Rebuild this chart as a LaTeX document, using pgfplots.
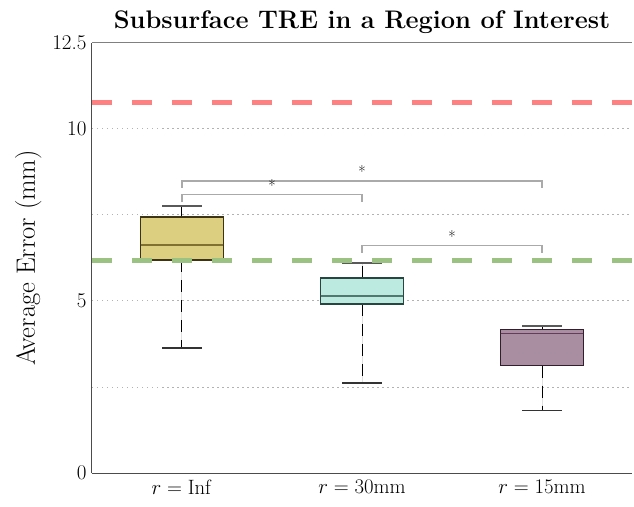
\documentclass[border=0pt]{standalone}
\usepackage{pgfplots}
\pgfplotsset{compat=1.18}
\usepgfplotslibrary{statistics}
\definecolor{fillA}{RGB}{221,207,128}
\definecolor{edgeA}{RGB}{60,52,20}
\definecolor{medA}{RGB}{128,112,50}
\definecolor{fillB}{RGB}{189,234,224}
\definecolor{edgeB}{RGB}{40,70,64}
\definecolor{medB}{RGB}{80,120,110}
\definecolor{fillC}{RGB}{168,142,160}
\definecolor{edgeC}{RGB}{50,30,45}
\definecolor{medC}{RGB}{100,60,90}
\definecolor{refred}{RGB}{255,128,128}
\definecolor{refgreen}{RGB}{155,194,131}
\definecolor{brk}{RGB}{170,170,170}
\begin{document}
\begin{tikzpicture}
\useasboundingbox (-92pt,-33pt) rectangle (542pt,473pt);
\begin{axis}[
  scale only axis,
  width=540pt, height=430pt,
  xmin=0.5, xmax=3.5, ymin=0, ymax=12.5,
  axis x line*=bottom, axis y line*=left,
  axis line style={-, draw=black!70, line width=1pt},
  xtick={1,2,3},
  xticklabels={{$r=\mathrm{Inf}$},{$r=\mathrm{30mm}$},{$r=\mathrm{15mm}$}},
  ytick={0,5,10,12.5},
  yticklabels={0,5,10,12.5},
  minor ytick={2.5,7.5},
  major tick length=0pt, minor tick length=0pt,
  ymajorgrids, yminorgrids,
  major grid style={draw=black!30, line width=1pt, dash pattern=on 1.5pt off 3.5pt},
  minor grid style={draw=black!30, line width=1pt, dash pattern=on 1.5pt off 3.5pt},
  tick label style={font=\fontsize{21}{23}\selectfont},
  yticklabel style={xshift=-2pt},
  xticklabel style={yshift=-4pt},
  ylabel={Average Error (mm)},
  ylabel style={font=\fontsize{26.5}{28}\selectfont},
  ylabel shift=4pt,
  title={Subsurface TRE in a Region of Interest},
  title style={font=\fontsize{25.4}{28}\selectfont\bfseries},
  clip=false,
  boxplot/draw direction=y,
  boxplot/box extend=0.46,
  boxplot/whisker extend=0.22,
  boxplot/draw/lower whisker/.code={%
    \draw[black, line width=1pt, dash pattern=on 12pt off 8pt]
      (boxplot cs:\pgfplotsboxplotvalue{lower quartile}) --
      (boxplot cs:\pgfplotsboxplotvalue{lower whisker});
    \draw[black!80, line width=1.5pt]
      (boxplot whisker cs:\pgfplotsboxplotvalue{lower whisker},0) --
      (boxplot whisker cs:\pgfplotsboxplotvalue{lower whisker},1);
  },
  boxplot/draw/upper whisker/.code={%
    \draw[black, line width=1pt, dash pattern=on 12pt off 8pt]
      (boxplot cs:\pgfplotsboxplotvalue{upper quartile}) --
      (boxplot cs:\pgfplotsboxplotvalue{upper whisker});
    \draw[black!65, line width=1.5pt]
      (boxplot whisker cs:\pgfplotsboxplotvalue{upper whisker},0) --
      (boxplot whisker cs:\pgfplotsboxplotvalue{upper whisker},1);
  },
]
\draw[draw=black!50, line width=1pt] (rel axis cs:0,1) -- (rel axis cs:1,1);
% boxes
\addplot[draw=edgeA, fill=fillA, line width=1.5pt,
  boxplot prepared={draw position=1, lower whisker=3.63, lower quartile=6.19,
    median=6.63, upper quartile=7.44, upper whisker=7.76,
    every median/.style={draw=medA, line width=1.5pt}}]
  coordinates {};
\addplot[draw=edgeB, fill=fillB, line width=1.5pt,
  boxplot prepared={draw position=2, lower whisker=2.62, lower quartile=4.91,
    median=5.15, upper quartile=5.67, upper whisker=6.10,
    every median/.style={draw=medB, line width=1.5pt}}]
  coordinates {};
\addplot[draw=edgeC, fill=fillC, line width=1.5pt,
  boxplot prepared={draw position=3, lower whisker=1.82, lower quartile=3.12,
    median=4.05, upper quartile=4.17, upper whisker=4.27,
    every median/.style={draw=medC, line width=1.5pt}}]
  coordinates {};
% reference lines
\addplot[refred, line width=5pt, dash pattern=on 20pt off 20pt] coordinates {(0.5,10.78) (3.5,10.78)};
\addplot[refgreen, line width=5pt, dash pattern=on 20pt off 20pt] coordinates {(0.5,6.19) (3.5,6.19)};
% significance brackets
\addplot[brk, line width=1.5pt] coordinates {(1,8.28) (1,8.49) (3,8.49) (3,8.28)};
\addplot[brk, line width=1.5pt] coordinates {(1,7.87) (1,8.10) (2,8.10) (2,7.87)};
\addplot[brk, line width=1.5pt] coordinates {(2,6.40) (2,6.61) (3,6.61) (3,6.40)};
\node[font=\fontsize{16}{16}\selectfont, inner sep=0pt] at (axis cs:2,8.77) {*};
\node[font=\fontsize{16}{16}\selectfont, inner sep=0pt] at (axis cs:1.5,8.37) {*};
\node[font=\fontsize{16}{16}\selectfont, inner sep=0pt] at (axis cs:2.5,6.88) {*};
\end{axis}
\end{tikzpicture}
\end{document}
